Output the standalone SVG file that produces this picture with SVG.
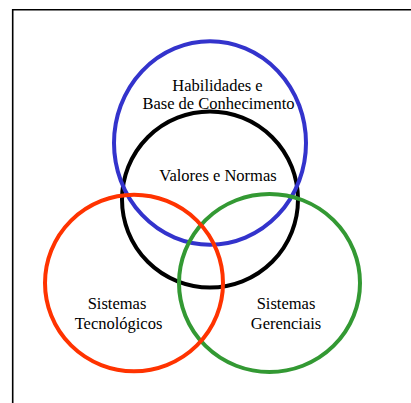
<svg xmlns="http://www.w3.org/2000/svg" width="411" height="403" viewBox="0 0 411 403">
  <style>
    .ring { fill: none; stroke-width: 4; }
    .label { font-family: "Liberation Serif", "Times New Roman", serif; font-size: 16.5px; fill: #000; text-anchor: middle; }
  </style>
  <rect width="411" height="403" fill="#fff"/>
  <!-- frame: top and left edges only -->
  <path d="M12.7 403 V9.8 H411" fill="none" stroke="#000" stroke-width="1.6"/>

  <g id="valores">
    <circle class="ring" cx="210" cy="199.5" r="88" stroke="#000"/>
  </g>
  <g id="habilidades">
    <ellipse class="ring" cx="210" cy="143" rx="96" ry="101.8" stroke="#3333cc"/>
    <text class="label" x="217.5" y="90.5">Habilidades e</text>
    <text class="label" x="218.5" y="109">Base de Conhecimento</text>
  </g>
  <g id="gerenciais">
    <ellipse class="ring" cx="269.5" cy="283" rx="90.5" ry="89" stroke="#339933"/>
    <text class="label" x="286" y="309">Sistemas</text>
    <text class="label" x="286" y="329">Gerenciais</text>
  </g>
  <g id="tecnologicos">
    <ellipse class="ring" cx="134" cy="283" rx="89" ry="88.3" stroke="#ff3300"/>
    <text class="label" x="117" y="309">Sistemas</text>
    <text class="label" x="118.5" y="329">Tecnológicos</text>
  </g>
  <g id="valores-label">
    <text class="label" x="218" y="181">Valores e Normas</text>
  </g>
</svg>
